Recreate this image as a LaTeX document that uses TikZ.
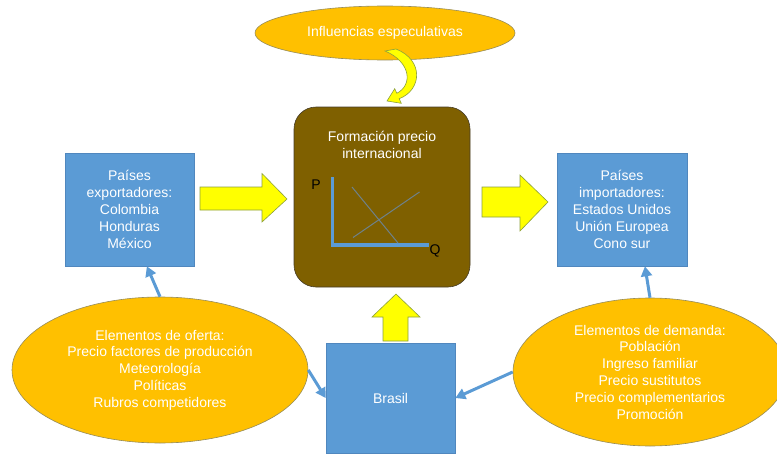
\documentclass[tikz,border=0pt]{standalone}
\usepackage{fontspec}
\setmainfont{Liberation Sans}
\usepackage{tikz}
\usetikzlibrary{arrows.meta,shapes.geometric}
\usepackage{xcolor}

\begin{document}
\begin{tikzpicture}[x=1pt,y=1pt,yscale=-1,xscale=1,
  txt/.style={font=\fontsize{14}{16.8}\selectfont,align=center,text=white},
  ovalnode/.style={ellipse,txt,inner sep=0pt,fill={rgb, 255:red, 255; green, 192; blue, 0 },draw={rgb, 255:red, 150; green, 140; blue, 90 },line width=0.6},
  bluebox/.style={rectangle,txt,inner sep=0pt,fill={rgb, 255:red, 91; green, 155; blue, 213 },draw={rgb, 255:red, 80; green, 135; blue, 190 },line width=0.6},
  blockarrow/.style={fill={rgb, 255:red, 255; green, 255; blue, 0 },draw={rgb, 255:red, 140; green, 160; blue, 60 },line width=0.6},
  conector/.style={color={rgb, 255:red, 91; green, 155; blue, 213 },line width=3,-{Triangle[length=10pt,width=11pt]}}]
\useasboundingbox (0,0) rectangle (777,455);

%Shape: Rounded Rect
\draw (382,197) node (precio) [rectangle,rounded corners=22,minimum width=176,minimum height=180,fill={rgb, 255:red, 127; green, 96; blue, 0 },draw={rgb, 255:red, 70; green, 60; blue, 40 },line width=0.6] {};
% Text Node
\draw (382,145) node (titulo) [txt] {Formación precio\\internacional};

%Shape: Axis 2D
\draw [color={rgb, 255:red, 91; green, 155; blue, 213 },line width=3.5] (332.5,177) -- (332.5,245) -- (428.5,245);
%Shape: Line (demanda)
\draw [color={rgb, 255:red, 110; green, 130; blue, 140 },line width=1] (352,187) -- (398,243);
%Shape: Line (oferta)
\draw [color={rgb, 255:red, 110; green, 130; blue, 140 },line width=1] (353,237.5) -- (419.5,192);
% Text Node
\draw (316,185) node (ejep) [font=\fontsize{14}{16}\selectfont] {P};
% Text Node
\draw (435,251) node (ejeq) [font=\fontsize{14}{16}\selectfont] {Q};

%Shape: Ellipse
\draw (385,33) node (espec) [ovalnode,minimum width=260,minimum height=54] {Influencias especulativas};
%Shape: Curved Arrow
\draw [blockarrow] (385,51) -- (396,49) .. controls (424,60) and (422,90) .. (399.2,98.7) -- (401.3,103.3) -- (387,101) -- (394.7,88.7) -- (396.8,93.3) .. controls (413,85) and (411,62) .. (385,51) -- cycle;

%Shape: Rectangle
\draw (129.5,209.5) node (expo) [bluebox,minimum width=129,minimum height=113] {Países\\exportadores:\\Colombia\\Honduras\\México};
%Shape: Rectangle
\draw (622,209.5) node (impo) [bluebox,minimum width=130,minimum height=113] {Países\\importadores:\\Estados Unidos\\Unión Europea\\Cono sur};
%Shape: Rectangle
\draw (390.5,398) node (brasil) [bluebox,minimum width=129,minimum height=110] {Brasil};

%Shape: Right Arrow
\draw [blockarrow] (200,187) -- (262,187) -- (262,173.5) -- (287,199) -- (262,222) -- (262,210) -- (200,210) -- cycle;
%Shape: Right Arrow
\draw [blockarrow] (482,187) -- (520,187) -- (520,175) -- (548,202) -- (520,231) -- (520,217) -- (482,217) -- cycle;
%Shape: Up Arrow
\draw [blockarrow] (383,341) -- (383,317) -- (372,317) -- (396,294) -- (420,317) -- (408,317) -- (408,341) -- cycle;

%Shape: Ellipse
\draw (160,370) node (ofer) [ovalnode,minimum width=296,minimum height=146] {Elementos de oferta:\\Precio factores de producción\\Meteorología\\Políticas\\Rubros competidores};
%Shape: Ellipse
\draw (650,372) node (dem) [ovalnode,minimum width=274,minimum height=148] {Elementos de demanda:\\Población\\Ingreso familiar\\Precio sustitutos\\Precio complementarios\\Promoción};

%Straight Lines
\draw [conector] (ofer.north) -- (expo.-73);
\draw [conector] (ofer.east) -- (brasil.west);
\draw [conector] (dem.west) -- (brasil.east);
\draw [conector] (dem.north) -- (impo.-68);

\end{tikzpicture}
\end{document}
